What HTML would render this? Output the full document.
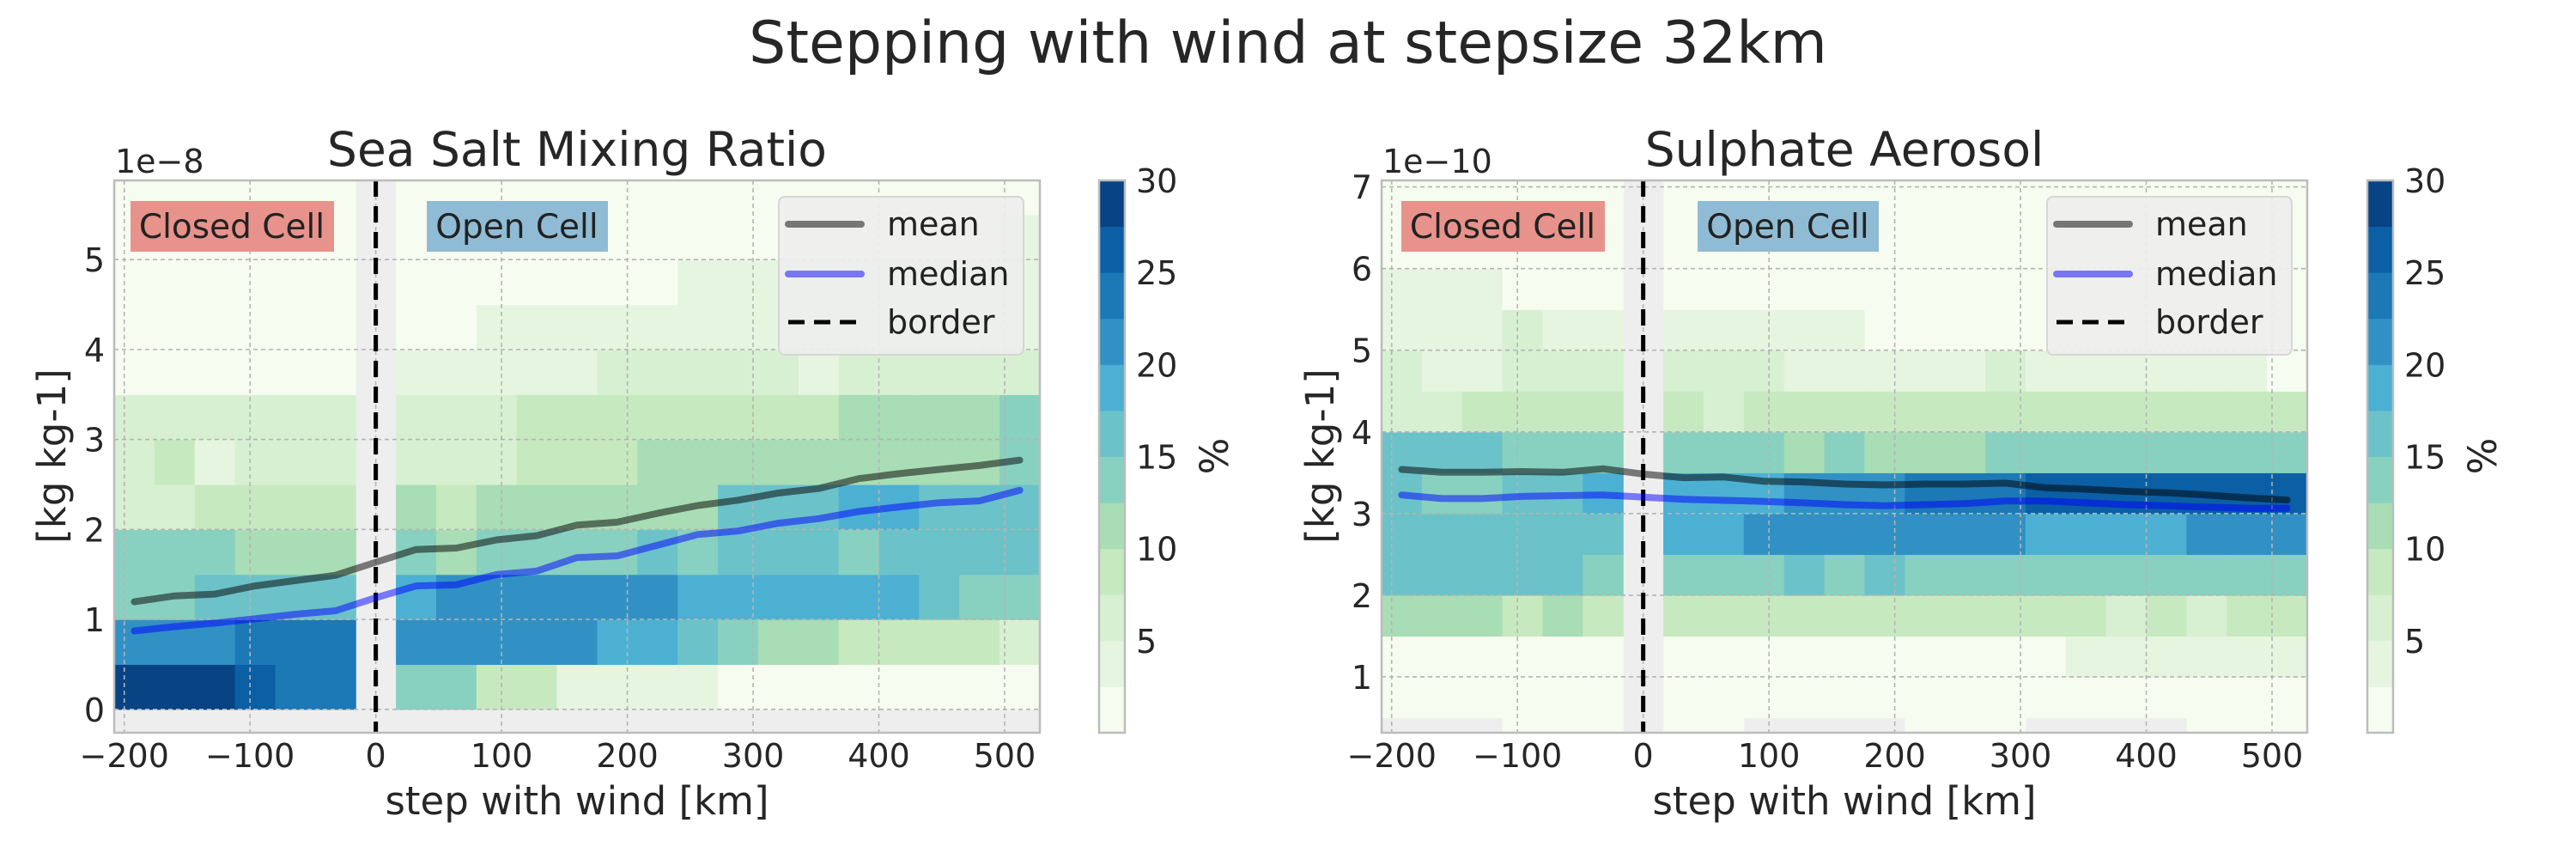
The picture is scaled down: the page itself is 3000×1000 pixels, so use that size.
<!DOCTYPE html>
<html><head><meta charset="utf-8">
<style>
html,body{margin:0;padding:0;background:#fff;}
svg{display:block;font-family:"DejaVu Sans","Liberation Sans",sans-serif;}
</style></head>
<body>
<svg id="fig" width="3000" height="1000" viewBox="0 0 3000 1000" xmlns="http://www.w3.org/2000/svg">
<rect x="0" y="0" width="3000" height="1000" fill="#ffffff"/>
<text x="1500" y="73" font-size="68" text-anchor="middle" fill="#262626">Stepping with wind at stepsize 32km</text>
</svg>
<script>
// ---- data ----
const binCentersLeft = [-192,-160,-128,-96,-64,-32];
const binCentersRight = [32,64,96,128,160,192,224,256,288,320,352,384,416,448,480,512];
const lineX = [-192,-160,-128,-96,-64,-32,0,32,64,96,128,160,192,224,256,288,320,352,384,416,448,480,512];
const xTicks = [-200,-100,0,100,200,300,400,500];
const cbarTicks = [5,10,15,20,25,30];

// Sea salt: rows are y-bins (0.5 wide) starting at 0, percent values
const seaRowLow = [0,0.5,1,1.5,2,2.5,3,3.5,4,4.5,5,5.5];
const seaPct = [
 [29,29,29,26,24,24, 14,14,9,9,4,4,4,4,1,1,1,1,1,1,1,1],
 [21,21,21,24,24,24, 21,21,21,21,21,19,19,16,14,11,11,9,9,9,9,6],
 [14,14,16,16,16,16, 19,21,21,21,21,21,21,19,19,19,19,19,19,16,14,14],
 [14,14,14,11,11,11, 14,11,14,14,14,14,16,14,16,16,16,14,16,16,16,16],
 [6,6,9,9,9,9, 11,9,11,11,11,11,11,11,16,16,16,19,19,16,16,16],
 [6,9,4,6,6,6, 6,6,6,9,9,9,11,11,11,11,11,11,11,11,11,14],
 [6,6,6,6,6,6, 6,6,6,9,9,9,9,9,9,9,9,11,11,11,11,14],
 [1,1,1,1,1,1, 4,4,4,4,4,6,6,6,6,6,4,6,6,6,6,6],
 [1,1,1,1,1,1, 1,1,4,4,4,4,4,4,4,4,4,4,4,4,4,4],
 [1,1,1,1,1,1, 1,1,1,1,1,1,1,4,4,4,4,4,4,4,4,4],
 [1,1,1,1,1,1, 1,1,1,1,1,1,1,1,1,1,1,1,1,1,1,4],
 [1,1,1,1,1,1, 1,1,1,1,1,1,1,1,1,1,1,1,1,1,1,1]
];
const seaMean = [1.195,1.261,1.281,1.372,1.431,1.49,1.635,1.777,1.793,1.884,1.931,2.049,2.08,2.179,2.266,2.325,2.404,2.455,2.565,2.62,2.667,2.711,2.77];
const seaMedian = [0.872,0.919,0.958,1.006,1.057,1.096,1.241,1.372,1.384,1.498,1.537,1.687,1.706,1.825,1.943,1.982,2.069,2.12,2.199,2.25,2.297,2.317,2.436];
const seaYTicks = [0,1,2,3,4,5];

// Sulphate
const sulRowLow = [0,0.5,1,1.5,2,2.5,3,3.5,4,4.5,5,5.5,6,6.5,7];
const N = null;
const sulPct = [
 [N,N,N,1,1,1, 1,1,N,N,N,N,1,1,1,N,N,N,N,1,1,1],
 [1,1,1,1,1,1, 1,1,1,1,1,1,1,1,1,1,1,1,1,1,1,1],
 [1,1,1,1,1,1, 1,1,1,1,1,1,1,1,1,1,4,4,4,4,4,4],
 [11,11,11,9,11,9, 9,9,9,9,9,9,9,9,9,9,9,6,9,6,9,9],
 [16,16,16,16,16,14, 14,14,14,16,14,16,14,14,14,14,14,14,14,14,14,14],
 [16,16,16,16,16,16, 19,19,21,21,21,21,21,21,21,19,19,19,19,21,21,21],
 [16,14,14,16,16,19, 19,19,19,21,21,21,24,24,24,26,26,26,26,26,26,26],
 [16,16,16,14,14,14, 14,14,14,11,14,11,11,11,14,14,14,14,14,14,14,14],
 [6,6,9,9,9,9, 9,6,9,9,9,9,9,9,9,9,9,9,9,9,9,9],
 [6,4,4,6,6,6, 6,6,6,4,4,4,4,4,6,4,4,4,4,4,4,1],
 [4,4,4,6,4,4, 4,4,4,4,4,1,1,1,1,1,1,1,1,1,1,1],
 [4,4,4,1,1,1, 1,1,1,1,1,1,1,1,1,1,1,1,1,1,1,1],
 [1,1,1,1,1,1, 1,1,1,1,1,1,1,1,1,1,1,1,1,1,1,1],
 [1,1,1,1,1,1, 1,1,1,1,1,1,1,1,1,1,1,1,1,1,1,1],
 [1,1,1,1,1,1, 1,1,1,1,1,1,1,1,1,1,1,1,1,1,1,1]
];
const sulMean = [3.54,3.505,3.505,3.514,3.505,3.549,3.483,3.439,3.448,3.395,3.387,3.361,3.351,3.361,3.361,3.373,3.316,3.298,3.272,3.255,3.228,3.193,3.166];
const sulMedian = [3.228,3.184,3.184,3.21,3.219,3.228,3.202,3.175,3.162,3.149,3.131,3.109,3.096,3.109,3.123,3.153,3.153,3.131,3.109,3.096,3.078,3.066,3.066];
const sulYTicks = [1,2,3,4,5,6,7];

const bandColors = ['#f7fcf0','#e6f5e0','#d8f0d2','#c7e9c0','#a8ddb5','#88d1c0','#6cc2c9','#4cb0d3','#3191c4','#1c79b6','#0b5fa4','#084384'];

const NS='http://www.w3.org/2000/svg';
const svg=document.getElementById('fig');
function mk(tag,attrs,parent){const e=document.createElementNS(NS,tag);for(const k in attrs)e.setAttribute(k,attrs[k]);(parent||svg).appendChild(e);return e;}
function color(v){let i=Math.floor(v/2.5);if(i>11)i=11;if(i<0)i=0;return bandColors[i];}

function panel(cfg){
  const g=mk('g',{});
  
  
  const L=cfg.left,R=cfg.right,T=210,B=853;
  const xs=v=>L+(v-(-208))/(736)*(R-L);
  const ys=v=>B-(v-cfg.ymin)/(cfg.ymax-cfg.ymin)*(B-T);
  mk('rect',{x:L,y:T,width:R-L,height:B-T,fill:'#eeeeee'},g);
  const clip=mk('clipPath',{id:'clip'+cfg.id},g);
  mk('rect',{x:L,y:T,width:R-L,height:B-T},clip);
  const cells=mk('g',{'clip-path':'url(#clip'+cfg.id+')'},g);
  
  
  const centers=binCentersLeft.concat(binCentersRight);
  cfg.pct.forEach((row,ri)=>{
    const y0=cfg.rows[ri];
    row.forEach((v,ci)=>{
      if(v===null)return;
      const c=centers[ci];
      const x0=xs(c-16),x1=xs(c+16);
      const yt=ys(y0+0.5),yb=ys(y0);
      const r=mk('rect',{x:x0,y:yt,width:x1-x0+0.6,height:yb-yt+0.6,fill:color(v)},cells);
      
      
    });
  });
  // grid
  const grid=mk('g',{stroke:'#b4b4b4','stroke-width':1.6,'stroke-dasharray':'5,4'},g);
  
  
  xTicks.forEach(t=>mk('line',{x1:xs(t),x2:xs(t),y1:T,y2:B},grid));
  cfg.yticks.forEach(t=>mk('line',{x1:L,x2:R,y1:ys(t),y2:ys(t)},grid));
  // border
  const bl=mk('line',{x1:xs(0),x2:xs(0),y1:T,y2:B,stroke:'#000','stroke-width':5,'stroke-dasharray':'19,11'},g);
  
  
  // lines
  const pts=arr=>arr.map((v,i)=>xs(lineX[i]).toFixed(1)+','+ys(v).toFixed(1)).join(' ');
  const ml=mk('polyline',{points:pts(cfg.mean),fill:'none',stroke:'#000','stroke-opacity':0.5,'stroke-width':8,'stroke-linecap':'round','stroke-linejoin':'round'},g);
  
  
  const md=mk('polyline',{points:pts(cfg.median),fill:'none',stroke:'#0000ff','stroke-opacity':0.5,'stroke-width':8,'stroke-linecap':'round','stroke-linejoin':'round'},g);
  
  
  // spine
  const sp=mk('rect',{x:L,y:T,width:R-L,height:B-T,fill:'none',stroke:'#bcbcbc','stroke-width':2.5},g);
  
  
  // labels boxes
  const cb=mk('rect',{x:cfg.closedX,y:234,width:237,height:59,fill:'#e8928c'},g);
  
  
  const ct=mk('text',{x:cfg.closedX+118,y:277,'font-size':39,'text-anchor':'middle',fill:'#222'},g);ct.textContent='Closed Cell';
  
  
  const ob=mk('rect',{x:cfg.openX,y:234,width:211,height:59,fill:'#8fbcd4'},g);
  
  
  const ot=mk('text',{x:cfg.openX+105,y:277,'font-size':39,'text-anchor':'middle',fill:'#222'},g);ot.textContent='Open Cell';
  
  
  // legend
  const lg=mk('g',{},g);
  
  
  const lx=cfg.legX;
  mk('rect',{x:lx,y:229,width:285,height:184,rx:7,fill:'#eeeeee','fill-opacity':0.92,stroke:'#d6d6d6','stroke-width':2},lg);
  const ents=[['mean','#777777',null,261,274],['median','#7777f6',null,319,332],['border','#000000','19,11',375,388]];
  ents.forEach(e=>{
    const a={x1:lx+11,x2:lx+96,y1:e[3],y2:e[3],stroke:e[1],'stroke-width':e[2]?5:8,'stroke-linecap':e[2]?'butt':'round'};
    if(e[2])a['stroke-dasharray']=e[2];
    mk('line',a,lg);
    const t=mk('text',{x:lx+126,y:e[4],'font-size':38,fill:'#222'},lg);t.textContent=e[0];
    
    
  });
  // ticks
  xTicks.forEach(t=>{const tx=mk('text',{x:xs(t),y:893,'font-size':38,'text-anchor':'middle',fill:'#262626'},g);tx.textContent=(t<0?'\u2212':'')+Math.abs(t);
    
    });
  cfg.yticks.forEach(t=>{const tx=mk('text',{x:L-11,y:ys(t)+14,'font-size':38,'text-anchor':'end',fill:'#262626'},g);tx.textContent=t;
    
    });
  const off=mk('text',{x:L+1,y:201,'font-size':38,fill:'#262626'},g);off.textContent=cfg.offset;
  
  
  const tt=mk('text',{x:(L+R)/2,y:193,'font-size':55,'text-anchor':'middle',fill:'#262626'},g);tt.textContent=cfg.title;
  
  
  const xl=mk('text',{x:(L+R)/2,y:948,'font-size':45,'text-anchor':'middle',fill:'#262626'},g);xl.textContent='step with wind [km]';
  
  
  const yl=mk('text',{x:0,y:0,'font-size':45,'text-anchor':'middle',fill:'#262626',transform:'translate('+cfg.ylabX+',531) rotate(-90)'},g);yl.textContent='[kg kg-1]';
  
  
  // colorbar
  const cbg=mk('g',{},g);
  
  
  const cx=cfg.cbX,cw=30;
  const cs=v=>B-v/30*(B-T);
  bandColors.forEach((c,i)=>mk('rect',{x:cx,y:cs((i+1)*2.5),width:cw,height:cs(i*2.5)-cs((i+1)*2.5)+0.5,fill:c},cbg));
  mk('rect',{x:cx,y:T,width:cw,height:B-T,fill:'none',stroke:'#bcbcbc','stroke-width':2.5},cbg);
  cbarTicks.forEach(t=>{const tx=mk('text',{x:cx+cw+13,y:cs(t)+14,'font-size':38,fill:'#262626'},cbg);tx.textContent=t;
    
    });
  const pl=mk('text',{x:0,y:0,'font-size':45,'text-anchor':'middle',fill:'#262626',transform:'translate('+(cx+cw+120)+',531) rotate(-90)'},cbg);pl.textContent='%';
  
  
}

panel({id:1,name:'sea-salt-panel',left:133,right:1211,ymin:-0.26,ymax:5.88,rows:seaRowLow,pct:seaPct,mean:seaMean,median:seaMedian,yticks:seaYTicks,
  title:'Sea Salt Mixing Ratio',offset:'1e\u22128',closedX:152,openX:497,legX:907,ylabX:76,cbX:1280});
panel({id:2,name:'sulphate-panel',left:1609,right:2687,ymin:0.316,ymax:7.08,rows:sulRowLow,pct:sulPct,mean:sulMean,median:sulMedian,yticks:sulYTicks,
  title:'Sulphate Aerosol',offset:'1e\u221210',closedX:1632,openX:1977,legX:2384,ylabX:1553,cbX:2757});
</script>
</body></html>
